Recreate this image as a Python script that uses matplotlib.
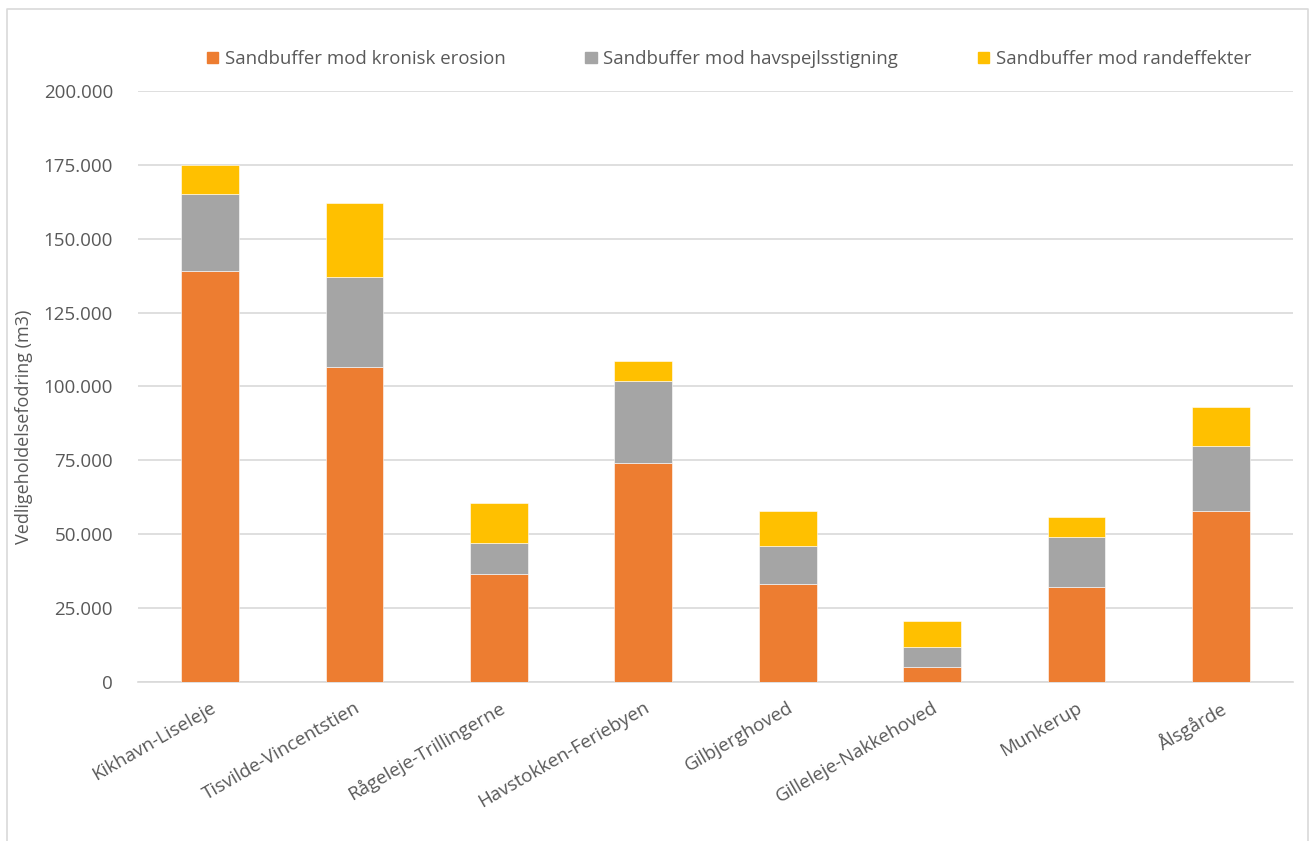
import matplotlib
matplotlib.use("Agg")
import matplotlib.pyplot as plt
from matplotlib.patches import Rectangle
from matplotlib.lines import Line2D
import numpy as np

categories = ["Kikhavn-Liseleje", "Tisvilde-Vincentstien", "Rågeleje-Trillingerne",
              "Havstokken-Feriebyen", "Gilbjerghoved", "Gilleleje-Nakkehoved",
              "Munkerup", "Ålsgårde"]
erosion = [139000, 106500, 36500, 74000, 33000, 5000, 32000, 58000]
havspejl = [26000, 30500, 10500, 28000, 13000, 7000, 17000, 22000]
rand = [10000, 25000, 13500, 6500, 11700, 8600, 6700, 13200]

series_names = ["Sandbuffer mod kronisk erosion",
                "Sandbuffer mod havspejlsstigning",
                "Sandbuffer mod randeffekter"]
colors = ["#ED7D31", "#A5A5A5", "#FFC000"]
yticks = [0, 25000, 50000, 75000, 100000, 125000, 150000, 175000, 200000]

plt.rcParams['font.family'] = ['Open Sans', 'DejaVu Sans']
txt = "#595959"

W, H = 1312, 841
fig = plt.figure(figsize=(W / 100, H / 100), dpi=100)
ax = fig.add_axes([138 / W, (H - 682) / H, 1155 / W, 591 / H])

x = np.arange(len(categories))
bottom = np.zeros(len(categories))
for vals, c, name in zip([erosion, havspejl, rand], colors, series_names):
    ax.bar(x, vals, width=0.4, bottom=bottom, color=c, label=name, zorder=3,
           edgecolor="white", linewidth=0.4)
    bottom += np.array(vals)

ax.set_xlim(-0.5, len(categories) - 0.5)
ax.set_ylim(0, 200000)
ax.set_yticks(yticks)
ax.set_yticklabels([("{:,}".format(v)).replace(",", ".") for v in yticks],
                   fontsize=13.5, color=txt)
ax.yaxis.grid(True, color="#D9D9D9", linewidth=1.2, zorder=0)
ax.set_axisbelow(True)
for s in ["top", "right", "left"]:
    ax.spines[s].set_visible(False)
ax.spines["bottom"].set_color("#D9D9D9")
ax.spines["bottom"].set_linewidth(1.2)
ax.tick_params(axis="y", length=0, pad=18)
ax.tick_params(axis="x", length=0, pad=12)
ax.set_xticks(x)
ax.set_xticklabels(categories, rotation=30, ha="right", rotation_mode="anchor",
                   fontsize=13.5, color=txt)

fig.text(24 / W, 1 - 427 / H, "Vedligeholdelsefodring (m3)", rotation=90,
         ha="center", va="center", fontsize=13, color=txt)

handles = [Rectangle((0, 0), 1, 1, color=c) for c in colors]
fig.legend(handles, series_names, loc="center", bbox_to_anchor=(729 / W, 1 - 59 / H),
           ncol=3, frameon=False, fontsize=13.4, labelcolor=txt,
           handlelength=0.6, handleheight=0.6, handletextpad=0.35,
           columnspacing=4.3)

# outer chart border
fig.add_artist(Line2D([7 / W, 7 / W, 1308 / W, 1308 / W],
                      [0, 1 - 9 / H, 1 - 9 / H, 0], color="#D9D9D9",
                      linewidth=1.2, transform=fig.transFigure))

fig.savefig("out.png", dpi=100, facecolor="white")
